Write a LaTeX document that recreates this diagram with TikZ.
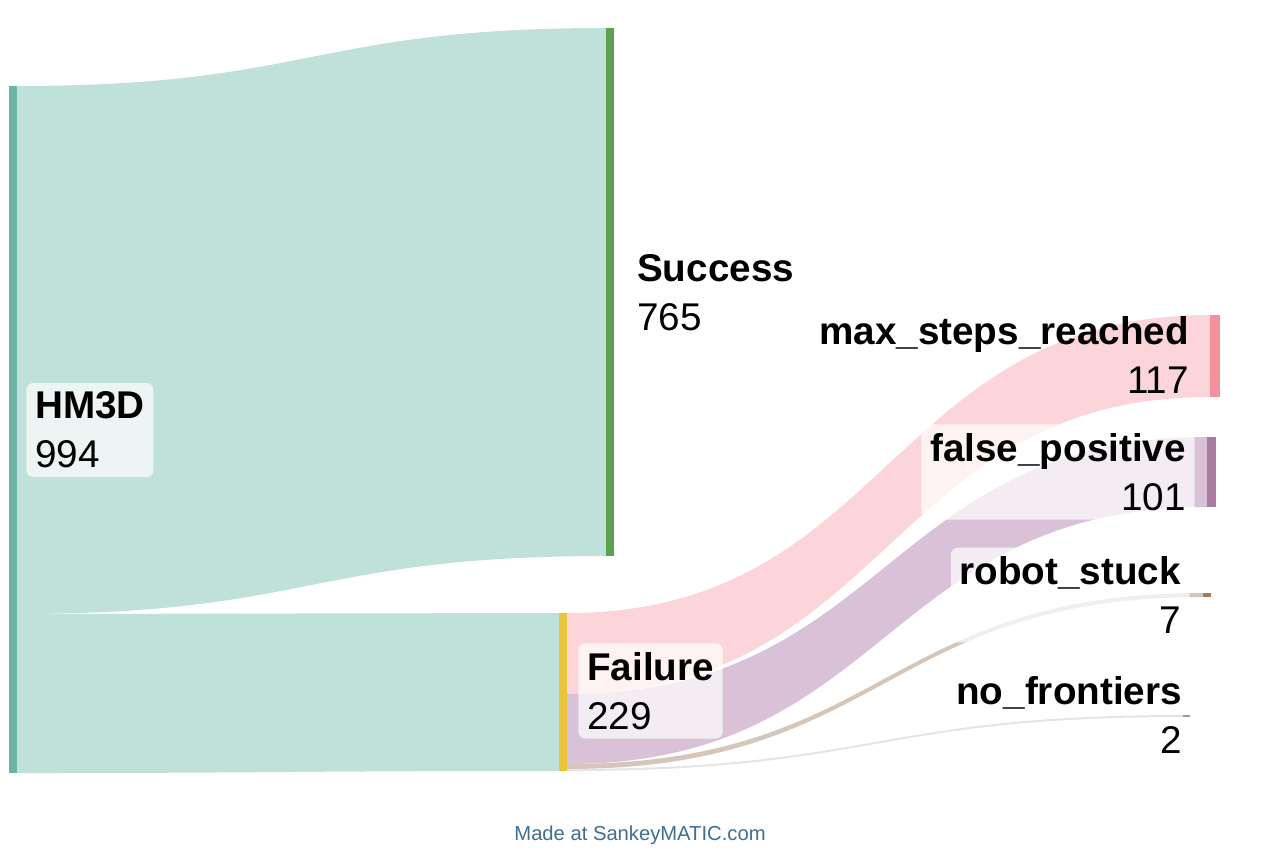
\documentclass[tikz,border=0pt]{standalone}
\usepackage{fontspec}
\setmainfont{Liberation Sans}
\usetikzlibrary{positioning}

\definecolor{hmbar}{HTML}{6DB3A8}
\definecolor{hmflow}{HTML}{C0E0DA}
\definecolor{succbar}{HTML}{5AA250}
\definecolor{failbar}{HTML}{E8C53A}
\definecolor{maxbar}{HTML}{F4919C}
\definecolor{maxflow}{HTML}{FCD5DA}
\definecolor{fpbar}{HTML}{A97AA2}
\definecolor{fpflow}{HTML}{D9C2D7}
\definecolor{rsbar}{HTML}{A87A5E}
\definecolor{rsflow}{HTML}{D6C6BA}
\definecolor{nfbar}{HTML}{9A9A9A}
\definecolor{nfflow}{HTML}{E4E4E4}
\definecolor{credit}{HTML}{3F6E8E}

% band between two bars: x0, top0, bot0, x1, top1, bot1, colour
\newcommand{\flowband}[7]{%
  \fill[#7] (#1,#2) .. controls ({(#1+#4)/2},#2) and ({(#1+#4)/2},#5) .. (#4,#5)
    -- (#4,#6) .. controls ({(#1+#4)/2},#6) and ({(#1+#4)/2},#3) .. (#1,#3) -- cycle;}

\begin{document}
\begin{tikzpicture}[x=0.02cm,y=-0.02cm,
    lbl/.style={fill=white,fill opacity=0.7,text opacity=1,rounded corners=4pt,
      font=\fontsize{22}{28}\selectfont,inner sep=5pt},
    bar/.style={inner sep=0pt,outer sep=0pt}]
  \useasboundingbox (0,0) rectangle (1280,853);

  % flows
  \flowband{17}{86}{614}{606}{28}{556}{hmflow}
  \flowband{17}{614}{773}{559}{613}{771}{hmflow}
  \flowband{567}{613}{694}{1210}{315}{397}{maxflow}
  \flowband{567}{694}{764}{1207}{437}{507}{fpflow}
  \flowband{567}{764}{769}{1203}{593}{597}{rsflow}
  \flowband{567}{769}{771}{1183}{715}{717}{nfflow}

  % bars
  \fill[hmbar] (9,86) rectangle (17,773) coordinate (hm3d);
  \fill[succbar] (606,28) rectangle (614,556) coordinate (success);
  \fill[failbar] (559,613) rectangle (567,771) coordinate (failure);
  \fill[maxbar] (1210,315) rectangle (1220,397) coordinate (maxsteps);
  \fill[fpbar] (1207,437) rectangle (1216,507) coordinate (falsepos);
  \fill[rsbar] (1203,593) rectangle (1211,597) coordinate (stuck);
  \fill[nfbar] (1183,715) rectangle (1190,717) coordinate (nofront);

  % labels
  \node[lbl,anchor=west,align=left] (hm3dlbl) at (26,430) {\bfseries HM3D\\994};
  \node[lbl,anchor=west,align=left,fill opacity=0] (succlbl) at (628,293) {\bfseries Success\\765};
  \node[lbl,anchor=west,align=left] (faillbl) at (578,691) {\bfseries Failure\\229};
  \node[lbl,anchor=east,align=right,fill opacity=0] (maxlbl) at (1198,355) {\bfseries max\_steps\_reached\\117};
  \node[lbl,anchor=east,align=right] (fplbl) at (1195,472) {\bfseries false\_positive\\101};
  \node[lbl,anchor=east,align=right] (rslbl) at (1190,595) {\bfseries robot\_stuck\\7};
  \node[lbl,anchor=east,align=right,fill opacity=0] (nflbl) at (1191,715) {\bfseries no\_frontiers\\2};

  \node[text=credit,font=\fontsize{11.5}{14}\selectfont] (madeat) at (640,835) {Made at SankeyMATIC.com};
\end{tikzpicture}
\end{document}
